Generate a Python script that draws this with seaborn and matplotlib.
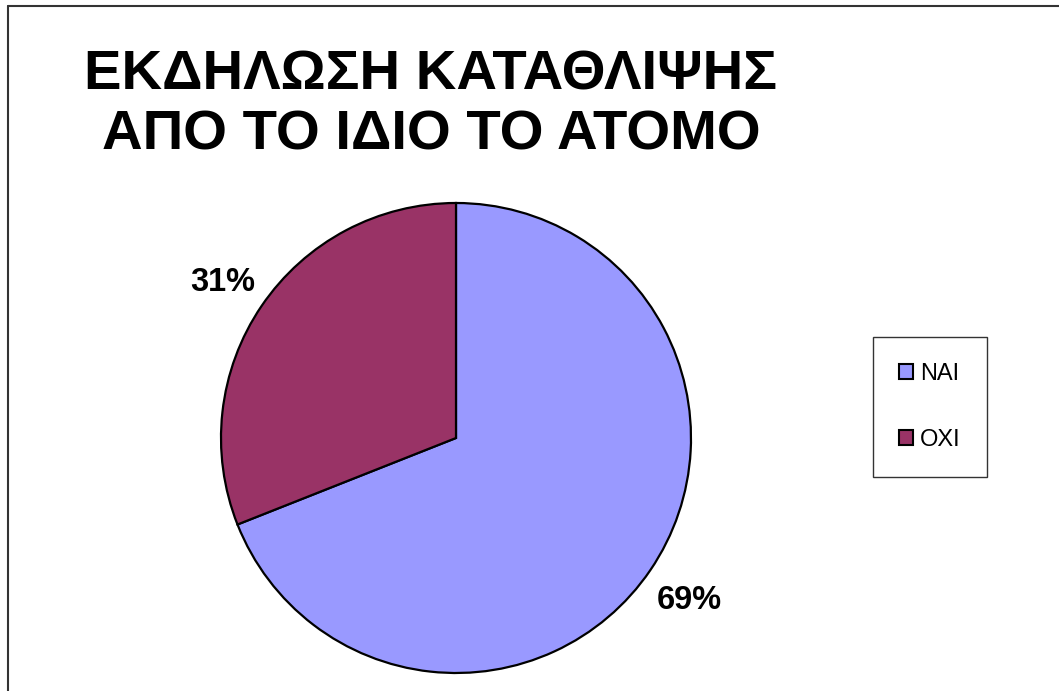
import matplotlib
matplotlib.use("Agg")
import matplotlib.pyplot as plt
import seaborn as sns
from matplotlib.patches import Rectangle
from matplotlib.lines import Line2D

categories = ["ΝΑΙ", "ΟΧΙ"]
values = [69, 31]
colors = ["#9999FF", "#993366"]
title = "ΕΚΔΗΛΩΣΗ ΚΑΤΑΘΛΙΨΗΣ\nΑΠΟ ΤΟ ΙΔΙΟ ΤΟ ΑΤΟΜΟ"

sns.set_theme(style="white")
plt.rcParams["font.family"] = ["Liberation Sans", "DejaVu Sans"]
plt.rcParams["text.color"] = "black"

W, H = 1059, 691
fig = plt.figure(figsize=(W / 100, H / 100), dpi=100)
fig.patch.set_facecolor("white")

cx, cy, r = 456, 438, 235
ax = fig.add_axes([(cx - r) / W, (H - cy - r) / H, 2 * r / W, 2 * r / H])
wedges, texts, autotexts = ax.pie(
    values, colors=colors, startangle=90, counterclock=False,
    autopct="%d%%", pctdistance=1.2, radius=1,
    wedgeprops=dict(edgecolor="black", linewidth=1.6),
    textprops=dict(fontsize=23.5, fontweight="bold", color="black"),
)
for t in autotexts:
    t.set_va("center_baseline")
ax.set_xlim(-1, 1)
ax.set_ylim(-1, 1)
ax.set_aspect("equal")
ax.axis("off")

fig.text(431 / W, 1 - 106 / H, title, ha="center", va="center",
         fontsize=40.5, fontweight="bold", linespacing=1.2, color="black")

# frame lines (top and left)
fig.add_artist(Line2D([8 / W, 1], [1 - 5.5 / H, 1 - 5.5 / H], color="#333333", lw=1.5))
fig.add_artist(Line2D([8 / W, 8 / W], [0, 1 - 5.5 / H], color="#333333", lw=1.5))

handles = [Rectangle((0, 0), 1, 1, facecolor=c, edgecolor="black", lw=1.5) for c in colors]
leg = fig.legend(handles, categories, loc="upper left",
                 bbox_to_anchor=(873 / W, 1 - 337 / H), fontsize=17,
                 frameon=True, fancybox=False, edgecolor="black",
                 handlelength=0.6, handleheight=0.6, handletextpad=0.3,
                 labelspacing=1.85, borderpad=1.1, borderaxespad=0)
leg.get_frame().set_linewidth(1.0)
for t in leg.get_texts():
    t.set_color("black")

fig.savefig("out.png", dpi=100, facecolor="white")
